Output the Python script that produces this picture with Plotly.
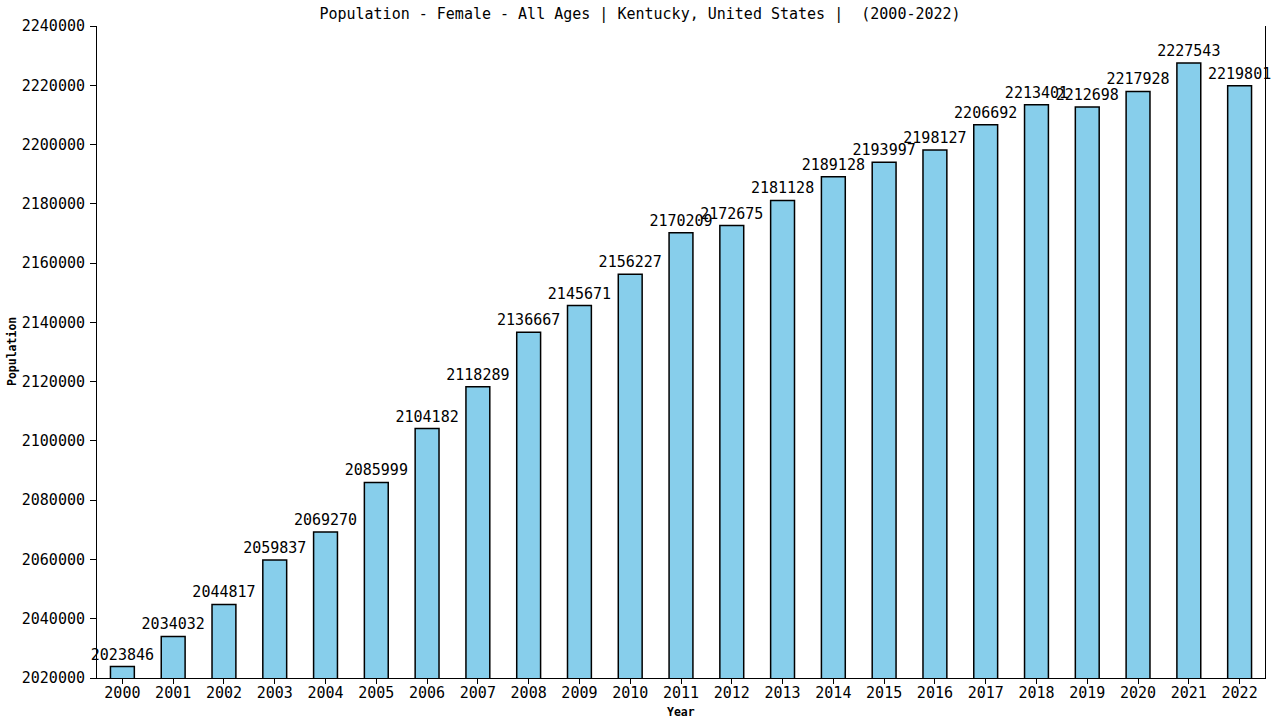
import plotly.graph_objects as go

years = [str(y) for y in range(2000, 2023)]
population = [2023846, 2034032, 2044817, 2059837, 2069270, 2085999, 2104182, 2118289,
              2136667, 2145671, 2156227, 2170209, 2172675, 2181128, 2189128, 2193997,
              2198127, 2206692, 2213401, 2212698, 2217928, 2227543, 2219801]
y_ticks = list(range(2020000, 2240001, 20000))

font_family = "DejaVu Sans Mono"

fig = go.Figure(go.Bar(
    x=years, y=population,
    marker=dict(color="#87CEEB", line=dict(color="black", width=1.5)),
    width=0.47,
    text=[str(v) for v in population],
    textposition="outside",
    constraintext="none",
    textfont=dict(family=font_family, size=15, color="black"),
    cliponaxis=False,
))

fig.update_layout(
    width=1280, height=720,
    margin=dict(l=97, r=15, t=26, b=42, autoexpand=False),
    plot_bgcolor="white", paper_bgcolor="white",
    title=dict(text="Population - Female - All Ages | Kentucky, United States |  (2000-2022)",
               x=0.5, xanchor="center", y=0.981, yanchor="middle",
               font=dict(family=font_family, size=15, color="black")),
    showlegend=False,
    annotations=[
        dict(text="<b>Year</b>", xref="paper", yref="paper", x=0.5, y=-42/652 + 8/652,
             xanchor="center", yanchor="middle", showarrow=False,
             font=dict(family=font_family, size=11.5, color="black")),
        dict(text="<b>Population</b>", xref="paper", yref="paper", x=-85/1168, y=0.5,
             xanchor="center", yanchor="middle", showarrow=False, textangle=-90,
             font=dict(family=font_family, size=11.5, color="black")),
    ],
)
fig.update_xaxes(
    type="category", range=[-0.5, 22.5], automargin=False,
    showline=True, linecolor="black", linewidth=1,
    ticks="outside", ticklen=5, tickcolor="black",
    ticklabelstandoff=-4,
    tickfont=dict(family=font_family, size=15, color="black"),
    showgrid=False,
)
fig.update_yaxes(
    range=[2020000, 2240000], automargin=False,
    tickvals=y_ticks, ticktext=[str(v) for v in y_ticks],
    showline=True, linecolor="black", linewidth=1, mirror=True,
    ticks="outside", ticklen=6, tickcolor="black",
    ticklabelstandoff=2,
    tickfont=dict(family=font_family, size=15, color="black"),
    showgrid=False, zeroline=False,
)

fig.write_html("out.html", config={"displayModeBar": False},
               post_script="document.body.style.margin='0';document.body.style.padding='0';")
